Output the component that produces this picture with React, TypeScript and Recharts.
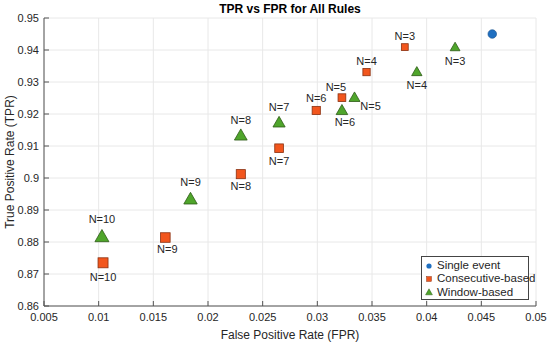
import { ScatterChart, Scatter, XAxis, YAxis, CartesianGrid, Legend } from 'recharts';

const xTicks = [0.005, 0.01, 0.015, 0.02, 0.025, 0.03, 0.035, 0.04, 0.045, 0.05];
const yTicks = [0.86, 0.87, 0.88, 0.89, 0.9, 0.91, 0.92, 0.93, 0.94, 0.95];

const singleFpr = [0.046];
const singleTpr = [0.945];

const ruleN = [3, 4, 5, 6, 7, 8, 9, 10];
const consFpr = [0.038, 0.0345, 0.03225, 0.0299, 0.0265, 0.023, 0.0161, 0.0104];
const consTpr = [0.9409, 0.9331, 0.9251, 0.9211, 0.9093, 0.9012, 0.8814, 0.8735];
const winFpr = [0.0426, 0.0391, 0.0334, 0.03225, 0.0265, 0.023, 0.0184, 0.0103];
const winTpr = [0.9411, 0.9334, 0.9254, 0.9214, 0.9176, 0.9136, 0.8937, 0.882];

const singleData = singleFpr.map((x, i) => ({ x, y: singleTpr[i] }));
const consData = ruleN.map((n, i) => ({ n, x: consFpr[i], y: consTpr[i] }));
const winData = ruleN.map((n, i) => ({ n, x: winFpr[i], y: winTpr[i] }));

const FONT = '"Liberation Sans", Arial, sans-serif';
const TEXT = '#262626';
const BLUE = '#1f6fc0';
const ORANGE = '#f2561d';
const GREEN = '#4fa52b';

// label offsets (dx, dy) relative to the marker, per N
const consLabelPos: Record<number, [number, number]> = {
  3: [0, -11], 4: [0, -11], 5: [-6, -11], 6: [0, -12],
  7: [0, 13], 8: [0, 12], 9: [2, 12], 10: [0, 14],
};
const winLabelPos: Record<number, [number, number]> = {
  3: [0, 15], 4: [0, 14], 5: [16, 9], 6: [3, 13],
  7: [0, -15], 8: [0, -14], 9: [0, -16], 10: [0, -16],
};

function NLabel({ x, y, n }: { x: number; y: number; n: number }) {
  return (
    <text x={x} y={y} dy="0.35em" textAnchor="middle" fontSize={11} fill={TEXT} fontFamily={FONT}>
      N={n}
    </text>
  );
}

function SquareShape(props: any) {
  const { cx, cy, payload } = props;
  const s = 5.5 + 0.45 * payload.n;
  const [dx, dy] = consLabelPos[payload.n];
  return (
    <g>
      <rect x={cx - s / 2} y={cy - s / 2} width={s} height={s} fill={ORANGE} stroke="#8a3010" strokeWidth={0.8} />
      <NLabel x={cx + dx} y={cy + dy} n={payload.n} />
    </g>
  );
}

function TriangleShape(props: any) {
  const { cx, cy, payload } = props;
  const w = 8 + 0.6 * payload.n;
  const h = w * 0.87;
  const [dx, dy] = winLabelPos[payload.n];
  const pts = `${cx},${cy - h / 2} ${cx + w / 2},${cy + h / 2} ${cx - w / 2},${cy + h / 2}`;
  return (
    <g>
      <polygon points={pts} fill={GREEN} stroke="#2d5a16" strokeWidth={0.8} />
      <NLabel x={cx + dx} y={cy + dy} n={payload.n} />
    </g>
  );
}

function CircleShape(props: any) {
  const { cx, cy } = props;
  return <circle cx={cx} cy={cy} r={4.3} fill={BLUE} stroke="#17508c" strokeWidth={0.6} />;
}

function LegendBox() {
  const items = [
    { label: 'Single event', mark: <circle cx={5} cy={5} r={2.6} fill={BLUE} /> },
    { label: 'Consecutive-based', mark: <rect x={2.6} y={2.6} width={4.8} height={4.8} fill={ORANGE} stroke="#8a3010" strokeWidth={0.5} /> },
    { label: 'Window-based', mark: <polygon points="5,1.8 8.4,7.8 1.6,7.8" fill={GREEN} stroke="#2d5a16" strokeWidth={0.5} /> },
  ];
  return (
    <div
      style={{
        width: 108,
        height: 44,
        border: '1px solid #444',
        background: '#fff',
        fontFamily: FONT,
        fontSize: 11.5,
        color: TEXT,
        paddingTop: 2,
        boxSizing: 'border-box',
      }}
    >
      {items.map((it) => (
        <div key={it.label} style={{ display: 'flex', alignItems: 'center', height: 13.3, lineHeight: '13.3px' }}>
          <svg width={10} height={10} style={{ marginLeft: 2, flexShrink: 0 }}>{it.mark}</svg>
          <span style={{ marginLeft: 3, whiteSpace: 'nowrap' }}>{it.label}</span>
        </div>
      ))}
    </div>
  );
}

export default function App() {
  return (
    <div style={{ position: 'absolute', left: 0, top: 0, width: 550, height: 345, background: '#fff' }}>
      <ScatterChart width={550} height={345} margin={{ top: 18, right: 14, left: 0, bottom: 0 }}>
        <CartesianGrid stroke="#e8e8e8" strokeWidth={1} />
        <XAxis
          type="number"
          dataKey="x"
          domain={[0.005, 0.05]}
          ticks={xTicks}
          allowDataOverflow
          height={39}
          stroke="#555"
          tickSize={-5}
          tickMargin={12}
          tick={{ fontSize: 11, fill: TEXT, fontFamily: FONT }}
          tickFormatter={(v) => String(v)}
          label={{ value: 'False Positive Rate (FPR)', position: 'insideBottom', offset: 6, fontSize: 12, fill: TEXT, fontFamily: FONT }}
        />
        <XAxis
          xAxisId="top"
          orientation="top"
          type="number"
          dataKey="x"
          domain={[0.005, 0.05]}
          ticks={xTicks}
          allowDataOverflow
          height={0}
          stroke="#555"
          tickSize={-5}
          tick={false}
        />
        <YAxis
          type="number"
          dataKey="y"
          domain={[0.86, 0.95]}
          ticks={yTicks}
          allowDataOverflow
          width={44}
          stroke="#555"
          tickSize={-5}
          tickMargin={10}
          tick={{ fontSize: 11, fill: TEXT, fontFamily: FONT }}
          tickFormatter={(v) => String(v)}
          label={{ value: 'True Positive Rate (TPR)', angle: -90, position: 'insideLeft', offset: 10, style: { textAnchor: 'middle' }, fontSize: 12, fill: TEXT, fontFamily: FONT }}
        />
        <YAxis
          yAxisId="right"
          orientation="right"
          type="number"
          dataKey="y"
          domain={[0.86, 0.95]}
          ticks={yTicks}
          allowDataOverflow
          width={0}
          stroke="#555"
          tickSize={-5}
          tick={false}
        />
        <Scatter name="Single event" data={singleData} shape={CircleShape} isAnimationActive={false} />
        <Scatter name="Consecutive-based" data={consData} shape={SquareShape} isAnimationActive={false} />
        <Scatter name="Window-based" data={winData} shape={TriangleShape} isAnimationActive={false} />
        <Legend
          layout="vertical"
          align="center"
          verticalAlign="middle"
          wrapperStyle={{ position: 'absolute', left: 421, top: 256, width: 108 }}
          content={() => <LegendBox />}
        />
        <text x={290} y={9} dy="0.35em" textAnchor="middle" fontSize={12} fontWeight="bold" fill="#000" fontFamily={FONT}>
          TPR vs FPR for All Rules
        </text>
      </ScatterChart>
    </div>
  );
}
